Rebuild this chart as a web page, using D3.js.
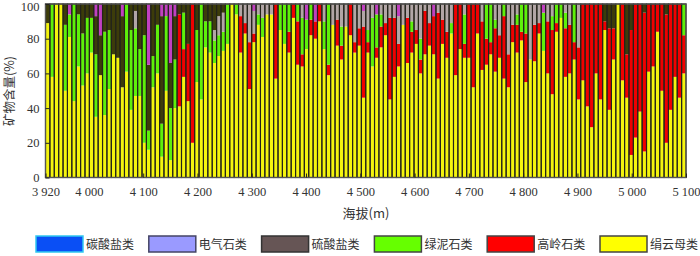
<!DOCTYPE html>
<html>
<head>
<meta charset="utf-8">
<script src="https://cdn.jsdelivr.net/npm/d3@7"></script>
<style>
    body { margin: 0; background: #fff; }
    svg { display: block; }
    .tick text { font-family: "Liberation Serif", "Times New Roman", serif; font-size: 12.5px; fill: #333; }
    .tick line { stroke: #222; }
    .cjk { font-family: "Noto Sans CJK SC", sans-serif; fill: #333; }
</style>
</head>
<body>
<div id="chart"></div>
<script>
// stacking order, bottom -> top
const seriesNames = ["绢云母类", "高岭石类", "绿泥石类", "电气石类", "硫酸盐类", "碳酸盐类"];
const legendNames = ["碳酸盐类", "电气石类", "硫酸盐类", "绿泥石类", "高岭石类", "绢云母类"];

const sericite = [
    89, 58, 100, 100, 50, 81, 44, 64, 53, 60, 72, 35, 59, 36, 51, 71, 69, 52, 61, 39,
    47, 47, 20, 16, 52, 60, 12, 50, 10, 40, 41, 58, 44, 20, 55, 45, 75, 72, 66, 70, 73, 77,
    100, 94, 72, 83, 51, 78, 88, 81, 94, 94, 57, 85, 77, 72, 92, 65, 64, 74, 82, 80, 90,
    74, 59, 88, 76, 68, 87, 82, 72, 76, 46, 72, 64, 69, 75, 82, 45, 58, 64, 88, 66, 72,
    77, 60, 71, 76, 71, 57, 77, 69, 83, 59, 74, 69, 69, 52, 83, 62, 65, 71, 61, 69, 57,
    52, 78, 72, 79, 55, 68, 67, 83, 73, 60, 48, 84, 92, 58, 60, 68, 45, 56, 41, 29,
    60, 45, 85, 39, 68, 100, 56, 46, 13, 23, 38, 15, 61, 64, 84, 50, 20, 39, 58, 46, 60
];
const kaolinite = [
    0, 0, 0, 0, 0, 0, 0, 0, 0, 0, 0, 0, 0, 0, 0, 0, 0, 0, 0, 0,
    0, 0, 0, 0, 0, 0, 0, 0, 0, 0, 53, 16, 33, 80, 0, 0, 0, 0, 0, 0, 0, 0,
    0, 0, 21, 6, 27, 5, 0, 0, 0, 0, 43, 0, 0, 12, 8, 25, 7, 0, 9, 10, 10,
    0, 6, 0, 15, 8, 0, 18, 6, 10, 41, 6, 0, 6, 12, 7, 47, 34, 13, 0, 26, 12,
    8, 8, 25, 13, 22, 38, 14, 15, 0, 41, 26, 8, 31, 48, 17, 28, 15, 7, 25, 13, 36,
    19, 10, 16, 5, 28, 0, 21, 6, 0, 30, 37, 5, 0, 28, 28, 10, 30, 44, 59, 71,
    40, 55, 5, 47, 18, 0, 44, 25, 72, 77, 62, 80, 39, 36, 16, 50, 74, 61, 42, 54, 22
];
const chlorite = [
    0, 42, 0, 0, 38, 13, 56, 30, 30, 32, 20, 36, 0, 48, 34, 0, 0, 0, 39, 46,
    39, 27, 62, 11, 18, 28, 19, 43, 30, 28, 0, 21, 0, 0, 30, 55, 15, 18, 13, 12, 11, 23,
    0, 6, 0, 0, 0, 0, 6, 11, 0, 0, 0, 15, 23, 16, 0, 10, 21, 17, 9, 0, 0,
    16, 35, 0, 0, 11, 0, 0, 0, 0, 0, 7, 28, 19, 7, 0, 0, 0, 0, 0, 0, 6,
    0, 12, 0, 0, 0, 0, 0, 0, 6, 0, 0, 17, 0, 0, 0, 0, 20, 22, 5, 0, 7,
    0, 0, 6, 16, 17, 0, 0, 0, 22, 0, 8, 11, 8, 9, 0, 22, 0, 0, 0, 0,
    0, 0, 0, 0, 0, 0, 0, 0, 0, 0, 0, 0, 0, 0, 0, 0, 0, 0, 0, 0, 18
];
const tourmaline = [
    0, 0, 0, 0, 0, 0, 0, 0, 0, 0, 0, 0, 0, 0, 0, 0, 0, 0, 0, 0,
    10, 0, 0, 0, 0, 0, 0, 0, 0, 0, 0, 0, 0, 0, 0, 0, 0, 0, 6, 11, 11, 0,
    0, 0, 7, 11, 22, 13, 6, 8, 6, 6, 0, 0, 0, 0, 0, 0, 8, 0, 0, 0, 0,
    10, 0, 12, 9, 13, 13, 0, 22, 14, 9, 15, 8, 0, 6, 11, 8, 8, 16, 12, 8, 10,
    15, 20, 4, 11, 0, 5, 9, 16, 11, 0, 0, 6, 0, 0, 0, 10, 0, 0, 9, 18, 0,
    29, 12, 6, 0, 0, 32, 12, 11, 0, 10, 7, 0, 0, 5, 12, 0, 25, 0, 0, 0,
    0, 0, 0, 0, 0, 0, 0, 0, 0, 0, 0, 0, 0, 0, 0, 0, 0, 0, 0, 0, 0
];
const sulfate = [
    11, 0, 0, 0, 12, 0, 0, 6, 17, 8, 8, 22, 23, 16, 15, 29, 31, 41, 0, 15,
    4, 26, 18, 38, 30, 12, 62, 0, 26, 25, 6, 5, 23, 0, 15, 0, 10, 10, 15, 7, 5, 0,
    0, 0, 0, 0, 0, 0, 0, 0, 0, 0, 0, 0, 0, 0, 0, 0, 0, 0, 0, 0, 0,
    0, 0, 0, 0, 0, 0, 0, 0, 0, 0, 0, 0, 0, 0, 0, 0, 0, 0, 0, 0, 0,
    0, 0, 0, 0, 0, 0, 0, 0, 0, 0, 0, 0, 0, 0, 0, 0, 0, 0, 0, 0, 0,
    0, 0, 0, 0, 0, 0, 0, 0, 0, 0, 0, 0, 0, 0, 0, 0, 0, 0, 0, 0,
    0, 0, 10, 14, 14, 0, 0, 29, 15, 0, 0, 5, 0, 0, 0, 0, 6, 0, 0, 0, 0
];
const carbonate = [
    0, 0, 0, 0, 0, 6, 0, 0, 0, 0, 0, 7, 18, 0, 0, 0, 0, 7, 0, 0,
    0, 0, 0, 35, 0, 0, 7, 7, 34, 7, 0, 0, 0, 0, 0, 0, 0, 0, 0, 0, 0, 0,
    0, 0, 0, 0, 0, 4, 0, 0, 0, 0, 0, 0, 0, 0, 0, 0, 0, 9, 0, 10, 0,
    0, 0, 0, 0, 0, 0, 0, 0, 0, 4, 0, 0, 6, 0, 0, 0, 0, 7, 0, 0, 0,
    0, 0, 0, 0, 7, 0, 0, 0, 0, 0, 0, 0, 0, 0, 0, 0, 0, 0, 0, 0, 0,
    0, 0, 0, 0, 0, 0, 0, 0, 5, 0, 0, 0, 0, 0, 0, 0, 0, 0, 0, 0,
    0, 0, 0, 0, 0, 0, 0, 0, 0, 0, 0, 0, 0, 0, 0, 0, 0, 0, 0, 0, 0
];

const altTicks = [3920, 4000, 4100, 4200, 4300, 4400, 4500, 4600, 4700, 4800, 4900, 5000, 5100];
const pctTicks = [0, 20, 40, 60, 80, 100];

// colours as they show inside the bars
const barColor = {
    "绢云母类": "#f4f40e",
    "高岭石类": "#f00000",
    "绿泥石类": "#5ef00a",
    "电气石类": "#b2a6a6",
    "硫酸盐类": "#3c3c0a",
    "碳酸盐类": "#c040c0"
};
// colours of the legend swatches
const swatchFill = {
    "碳酸盐类": "#0a4ff5",
    "电气石类": "#9a9aff",
    "硫酸盐类": "#665555",
    "绿泥石类": "#66ff00",
    "高岭石类": "#ff0000",
    "绢云母类": "#ffff00"
};
const swatchStroke = {
    "碳酸盐类": "#30c8f0",
    "电气石类": "#444466",
    "硫酸盐类": "#333333",
    "绿泥石类": "#444444",
    "高岭石类": "#444444",
    "绢云母类": "#444444"
};

const seriesData = {
    "绢云母类": sericite,
    "高岭石类": kaolinite,
    "绿泥石类": chlorite,
    "电气石类": tourmaline,
    "硫酸盐类": sulfate,
    "碳酸盐类": carbonate
};

const width = 700, height = 256;
const plotLeft = 45.5, plotRight = 686, plotTop = 4, plotBottom = 177.5;

const rows = sericite.map((_, i) => {
    const r = { i };
    seriesNames.forEach(k => r[k] = seriesData[k][i]);
    return r;
});

const svg = d3.select("#chart").append("svg")
    .attr("width", width)
    .attr("height", height);

const x = d3.scaleBand().domain(rows.map(d => d.i)).range([plotLeft, plotRight]).padding(0);
const alt = d3.scaleLinear().domain([3920, 5100]).range([plotLeft, plotRight]);
const y = d3.scaleLinear().domain([0, 100]).range([plotBottom, plotTop]);

const stacked = d3.stack().keys(seriesNames)(rows);

svg.append("g")
    .selectAll("g")
    .data(stacked)
    .join("g")
    .attr("fill", s => barColor[s.key])
    .selectAll("rect")
    .data(s => s.filter(d => d[1] > d[0]))
    .join("rect")
    .attr("x", d => x(d.data.i))
    .attr("width", x.bandwidth())
    .attr("y", d => y(Math.min(100, d[1])))
    .attr("height", d => y(d[0]) - y(Math.min(100, d[1])));

// dark outlines of every bar
svg.append("g")
    .selectAll("rect")
    .data(rows)
    .join("rect")
    .attr("x", d => x(d.i))
    .attr("width", x.bandwidth())
    .attr("y", plotTop)
    .attr("height", plotBottom - plotTop)
    .attr("fill", "none")
    .attr("stroke", "#23231a")
    .attr("stroke-width", 1.1);

// frame
svg.append("rect")
    .attr("x", plotLeft).attr("y", plotTop)
    .attr("width", plotRight - plotLeft).attr("height", plotBottom - plotTop)
    .attr("fill", "none")
    .attr("stroke", "#555")
    .attr("stroke-width", 1.3);

const spaced = d => d3.format(",")(d).replace(",", " ");

const xAxis = svg.append("g")
    .attr("transform", `translate(0,${plotBottom})`)
    .call(d3.axisBottom(alt).tickValues(altTicks).tickSize(-4).tickPadding(10).tickFormat(spaced));
xAxis.select(".domain").remove();

const yAxis = svg.append("g")
    .attr("transform", `translate(${plotLeft},0)`)
    .call(d3.axisLeft(y).tickValues(pctTicks).tickSize(-4).tickPadding(6));
yAxis.select(".domain").remove();
// keep the top label inside the picture
yAxis.selectAll(".tick text").filter(d => d === 100).attr("dy", "0.5em");

svg.append("text")
    .attr("class", "cjk")
    .attr("x", 366).attr("y", 218)
    .attr("text-anchor", "middle")
    .attr("font-size", 13)
    .text("海拔(m)");

svg.append("text")
    .attr("class", "cjk")
    .attr("transform", "translate(14,91) rotate(-90)")
    .attr("text-anchor", "middle")
    .attr("font-size", 12.5)
    .text("矿物含量(%)");

// legend
const legend = svg.append("g")
    .selectAll("g")
    .data(legendNames)
    .join("g")
    .attr("transform", (d, i) => `translate(${36 + i * 112.8},236)`);

legend.append("rect")
    .attr("width", 47).attr("height", 16)
    .attr("fill", d => swatchFill[d])
    .attr("stroke", d => swatchStroke[d])
    .attr("stroke-width", 1.5);

legend.append("text")
    .attr("class", "cjk")
    .attr("x", 50).attr("y", 12.5)
    .attr("font-size", 12)
    .text(d => d);
</script>
</body>
</html>
